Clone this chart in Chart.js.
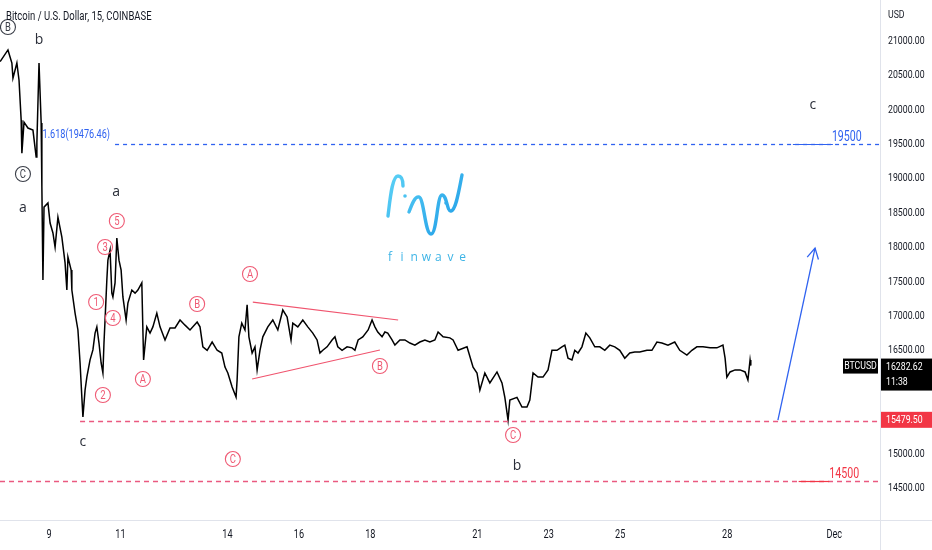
<!DOCTYPE html>
<html>
<head>
<meta charset="utf-8">
<script src="https://cdn.jsdelivr.net/npm/chart.js@4.4.0/dist/chart.umd.min.js"></script>
<style>
  html, body { margin: 0; padding: 0; background: #fff; }
  #wrap { width: 932px; height: 550px; position: relative; }
</style>
</head>
<body>
<div id="wrap"><canvas id="grafico" width="932" height="550"></canvas></div>
<script>
// BTCUSD 15m, COINBASE (dia de novembro, preço)
const days = [
  7.63, 7.85, 7.96, 7.99, 8.10, 8.16, 8.22, 8.24, 8.30, 8.41, 8.55, 8.64, 8.66, 8.72, 8.78, 8.80, 8.83, 8.86, 8.97,
  9.03, 9.11, 9.17, 9.25, 9.36, 9.45, 9.50, 9.53, 9.62, 9.64, 9.73, 9.81, 9.87, 9.92, 9.95,
  10.01, 10.06, 10.15, 10.23, 10.29, 10.34, 10.40, 10.46, 10.51, 10.54, 10.57, 10.62, 10.65, 10.71, 10.76, 10.79, 10.85, 10.90, 10.96,
  11.02, 11.07, 11.16, 11.21, 11.32, 11.41, 11.49, 11.60, 11.63, 11.65, 11.74, 11.83, 11.91,
  12.02, 12.11, 12.25, 12.39, 12.53, 12.67, 12.81, 12.95, 13.15, 13.23, 13.31, 13.43, 13.57, 13.71, 13.84, 13.93,
  14.01, 14.13, 14.24, 14.27, 14.32, 14.40, 14.49, 14.55, 14.60, 14.69, 14.77, 14.83, 14.91, 14.99,
  15.13, 15.27, 15.41, 15.55, 15.67, 15.78, 15.83, 15.97, 16.11, 16.25, 16.39, 16.51, 16.59, 16.67, 16.79, 16.93,
  17.01, 17.09, 17.21, 17.35, 17.49, 17.57, 17.66, 17.79, 17.94, 18.05, 18.13, 18.21, 18.33, 18.41, 18.49, 18.61, 18.69, 18.83, 18.97,
  19.11, 19.25, 19.39, 19.53, 19.67, 19.81, 19.90, 20.04, 20.23, 20.32, 20.46, 20.71, 20.88, 20.99,
  21.07, 21.21, 21.35, 21.55, 21.69, 21.77, 21.86, 21.91, 22.11, 22.25, 22.39, 22.47, 22.56, 22.70, 22.84, 22.98,
  23.09, 23.23, 23.37, 23.45, 23.54, 23.65, 23.73, 23.82, 23.93, 24.04, 24.15, 24.29, 24.43, 24.57, 24.71, 24.85, 24.99,
  25.13, 25.27, 25.41, 25.55, 25.75, 25.89, 26.03, 26.17, 26.34, 26.53, 26.67, 26.87, 27.01, 27.15, 27.32, 27.52, 27.71, 27.88, 27.94, 27.99,
  28.08, 28.22, 28.36, 28.50, 28.58, 28.64, 28.66
];
const closes = [
  20700, 20870, 20680, 20460, 20680, 20430, 19850, 19370, 19820, 19735, 19705, 19315, 19520, 20680, 19810, 18880, 17525, 18585, 18645,
  18355, 18210, 18005, 18440, 18150, 17775, 17380, 17860, 17670, 17380, 17045, 16800, 16320, 15820, 15535,
  15925, 16115, 16365, 16510, 16755, 16845, 16610, 16320, 16175, 16610, 16945, 17525, 17815, 17960, 17335, 17280, 17485, 18135, 17815,
  17670, 17280, 16945, 17190, 17380, 17335, 17380, 17485, 16800, 16365, 16845, 16755, 16845,
  17045, 16845, 16655, 16830, 16830, 16945, 16870, 16800, 16915, 16845, 16555, 16505, 16625, 16505, 16465, 16260,
  16175, 15970, 15825, 16075, 16700, 16900, 16800, 17165, 16700, 16465, 16555, 16220, 16505, 16700,
  16845, 16945, 16800, 17090, 16990, 16655, 16900, 16845, 16945, 16845, 16755, 16655, 16465, 16505, 16555, 16655,
  16700, 16555, 16505, 16555, 16540, 16505, 16655, 16700, 16800, 16945, 16845, 16770, 16700, 16770, 16755, 16655, 16580, 16655, 16655,
  16610, 16580, 16625, 16655, 16625, 16655, 16770, 16700, 16685, 16655, 16505, 16555, 16260, 16175,
  15925, 16175, 16030, 16190, 16030, 15820, 15490, 15780, 15820, 15680, 15680, 15780, 16175, 16115, 16115, 16220,
  16505, 16505, 16555, 16580, 16390, 16365, 16505, 16465, 16555, 16755, 16685, 16555, 16555, 16505, 16580, 16555, 16505,
  16390, 16465, 16480, 16480, 16505, 16505, 16625, 16610, 16580, 16625, 16505, 16435, 16505, 16555, 16555, 16540, 16540, 16580, 16390, 16115,
  16190, 16220, 16220, 16190, 16075, 16365, 16282.62
];

// Eixos
const priceTicks = [21000, 20500, 20000, 19500, 19000, 18500, 18000, 17500, 17000, 16500, 15000, 14500];
const dayTicks = [9, 11, 14, 16, 18, 21, 23, 25, 28, 31];
const dayLabels = ["9", "11", "14", "16", "18", "21", "23", "25", "28", "Dec"];

// Níveis
const lastPrice = 16282.62;
const lastTime = "11:38";
const supportPrice = 15479.5;
const fibPrice = 19476.46;
const targetHigh = 19500;
const targetLowLine = 14600; // linha desenhada um pouco acima do rótulo 14500
const targetLowText = "14500";

// Contagem de ondas: [texto, dia, preço, tipo]
const waves = [
  ["5", 10.90, 18384, "red"], ["3", 10.57, 18006, "red"], ["1", 10.32, 17206, "red"],
  ["4", 10.79, 16974, "red"], ["2", 10.51, 15855, "red"], ["A", 11.63, 16087, "red"],
  ["B", 13.15, 17177, "red"], ["A", 14.63, 17613, "red"], ["C", 14.15, 14924, "red"],
  ["B", 18.27, 16276, "red"], ["C", 22.00, 15273, "red"],
  ["B", 7.85, 21204, "dark"], ["C", 8.27, 19067, "dark"],
  ["b", 8.72, 21015, "text"], ["a", 8.27, 18573, "text"], ["a", 10.88, 18805, "text"],
  ["c", 9.95, 15172, "text"], ["b", 22.11, 14823, "text"], ["c", 30.40, 20070, "text"]
];

// Triângulo e seta
const triUpper = [[14.71, 17206], [18.78, 16945]];
const triLower = [[14.69, 16087], [18.27, 16509]];
const arrow = [[29.42, 15491], [30.46, 17991]];

const red = "#ef5a74";
const blue = "#2f62f0";
const condense = 0.76;

// texto estreito (estilo TradingView)
function narrow(ctx, s, x, y, size, color, align) {
  ctx.save();
  ctx.font = size + "px Roboto, sans-serif";
  ctx.fillStyle = color;
  ctx.textBaseline = "middle";
  ctx.textAlign = "left";
  const w = ctx.measureText(s).width * condense;
  let x0 = x;
  if (align === "right") x0 = x - w;
  else if (align === "center") x0 = x - w / 2;
  ctx.translate(x0, y);
  ctx.scale(condense, 1);
  ctx.fillText(s, 0, 0);
  ctx.restore();
}

function hLine(ctx, x1, x2, y, color, dash, width) {
  ctx.save();
  ctx.strokeStyle = color;
  ctx.lineWidth = width || 1;
  ctx.setLineDash(dash || []);
  ctx.beginPath();
  ctx.moveTo(x1, Math.round(y) + 0.5);
  ctx.lineTo(x2, Math.round(y) + 0.5);
  ctx.stroke();
  ctx.restore();
}

function circled(ctx, x, y, t, color) {
  ctx.save();
  ctx.strokeStyle = color;
  ctx.lineWidth = 1.1;
  ctx.beginPath();
  ctx.arc(x, y, 7.5, 0, Math.PI * 2);
  ctx.stroke();
  ctx.restore();
  narrow(ctx, t, x, y + 0.5, 12.5, color, "center");
}

function drawLogo(ctx) {
  const g = ctx.createLinearGradient(385, 175, 465, 235);
  g.addColorStop(0, "#5cd2f6");
  g.addColorStop(1, "#1e9be6");
  ctx.save();
  ctx.strokeStyle = g;
  ctx.fillStyle = g;
  ctx.lineWidth = 3.4;
  ctx.lineCap = "round";
  ctx.lineJoin = "round";
  ctx.beginPath();
  ctx.moveTo(388, 216);
  ctx.bezierCurveTo(390, 200, 392, 176, 398, 176);
  ctx.bezierCurveTo(402, 176, 403, 182, 403, 186);
  ctx.stroke();
  ctx.beginPath();
  ctx.moveTo(409, 212);
  ctx.bezierCurveTo(412, 204, 415, 196, 419, 197);
  ctx.bezierCurveTo(424, 198, 425, 234, 431, 234);
  ctx.bezierCurveTo(437, 234, 437, 195, 442, 195);
  ctx.bezierCurveTo(447, 195, 447, 212, 451, 211);
  ctx.bezierCurveTo(456, 210, 459, 190, 462, 175);
  ctx.stroke();
  ctx.beginPath(); ctx.arc(405, 196, 1.8, 0, Math.PI * 2); ctx.fill();
  ctx.beginPath(); ctx.arc(446, 203, 1.8, 0, Math.PI * 2); ctx.fill();
  ctx.fillStyle = "#3db4e6";
  ctx.font = "12px 'Open Sans', sans-serif";
  ctx.textAlign = "center";
  ctx.textBaseline = "middle";
  "finwave".split("").forEach((ch, i) => ctx.fillText(ch, 390 + i * 12.1, 258));
  ctx.restore();
}

const overlay = {
  id: "overlay",
  beforeDatasetsDraw(chart) {
    drawLogo(chart.ctx);
  },
  afterDatasetsDraw(chart) {
    const ctx = chart.ctx;
    const sx = chart.scales.x, sy = chart.scales.y;
    const X = d => sx.getPixelForValue(d);
    const Y = p => sy.getPixelForValue(p);
    const right = chart.chartArea.right;

    // linhas horizontais
    hLine(ctx, X(10.85), right, Y(targetHigh), blue, [4, 4], 1.3);
    hLine(ctx, X(9.87), right, Y(supportPrice), "#ea5a80", [5, 4], 1.4);
    hLine(ctx, 0, right, Y(targetLowLine), "#ea5a80", [5, 4], 1.4);
    hLine(ctx, X(29.84), X(30.96), Y(targetHigh), blue, null, 1.2);
    hLine(ctx, X(30.0), X(30.86), Y(targetLowLine), "#f23645", null, 1.2);

    narrow(ctx, "1.618(" + fibPrice.toFixed(2) + ")", X(10.71), Y(fibPrice) - 11, 12, blue, "right");
    narrow(ctx, String(targetHigh), X(30.96) - 1, Y(targetHigh) - 7, 14, blue, "left");
    narrow(ctx, targetLowText, X(30.86), Y(targetLowLine) - 7, 14, "#f23645", "left");

    // triângulo
    ctx.save();
    ctx.strokeStyle = "#f0546e";
    ctx.lineWidth = 1.2;
    [triUpper, triLower].forEach(l => {
      ctx.beginPath();
      ctx.moveTo(X(l[0][0]), Y(l[0][1]));
      ctx.lineTo(X(l[1][0]), Y(l[1][1]));
      ctx.stroke();
    });
    ctx.restore();

    // seta azul
    ctx.save();
    ctx.strokeStyle = blue;
    ctx.lineWidth = 1.3;
    const ax1 = X(arrow[0][0]), ay1 = Y(arrow[0][1]);
    const ax2 = X(arrow[1][0]), ay2 = Y(arrow[1][1]);
    ctx.beginPath(); ctx.moveTo(ax1, ay1); ctx.lineTo(ax2, ay2); ctx.stroke();
    const ang = Math.atan2(ay2 - ay1, ax2 - ax1);
    ctx.beginPath();
    ctx.moveTo(ax2 - 12 * Math.cos(ang - 0.5), ay2 - 12 * Math.sin(ang - 0.5));
    ctx.lineTo(ax2, ay2);
    ctx.lineTo(ax2 - 12 * Math.cos(ang + 0.5), ay2 - 12 * Math.sin(ang + 0.5));
    ctx.stroke();
    ctx.restore();

    // contagem de ondas
    waves.forEach(([t, d, p, kind]) => {
      const x = X(d), y = Y(p);
      if (kind === "red") circled(ctx, x, y, t, red);
      else if (kind === "dark") circled(ctx, x, y, t, "#3a3e48");
      else {
        ctx.save();
        ctx.fillStyle = "#2a2e39";
        ctx.font = "14px 'Open Sans', sans-serif";
        ctx.textAlign = "center";
        ctx.textBaseline = "middle";
        ctx.fillText(t, x, y);
        ctx.restore();
      }
    });
  },
  afterDraw(chart) {
    const ctx = chart.ctx;
    const sx = chart.scales.x, sy = chart.scales.y;
    const { right, bottom } = chart.chartArea;
    const W = chart.width, H = chart.height;

    // bordas dos eixos
    ctx.save();
    ctx.strokeStyle = "#e0e3eb";
    ctx.lineWidth = 1;
    ctx.beginPath();
    ctx.moveTo(right + 0.5, 0); ctx.lineTo(right + 0.5, H);
    ctx.moveTo(0, bottom + 0.5); ctx.lineTo(W, bottom + 0.5);
    ctx.stroke();
    ctx.restore();

    // rótulos dos eixos, a partir dos ticks das escalas
    sy.ticks.forEach(t => narrow(ctx, t.value.toFixed(2), right + 8, sy.getPixelForValue(t.value), 11.5, "#131722", "left"));
    sx.ticks.forEach((t, i) => narrow(ctx, dayLabels[i], sx.getPixelForValue(t.value), bottom + 15, 12, "#131722", "center"));
    narrow(ctx, "USD", right + 8, 15, 11.5, "#131722", "left");

    // título
    narrow(ctx, "Bitcoin / U.S. Dollar, 15, COINBASE", 6, 17, 12.5, "#131722", "left");

    // suporte
    const ys = sy.getPixelForValue(supportPrice);
    ctx.fillStyle = "#f23645";
    ctx.fillRect(right + 1, ys - 9, W - right - 1, 16);
    narrow(ctx, supportPrice.toFixed(2), right + 6, ys - 1, 11.5, "#fff", "left");

    // último preço
    const yl = sy.getPixelForValue(lastPrice);
    ctx.fillStyle = "#000";
    ctx.fillRect(right + 1, yl - 7, W - right - 1, 32);
    ctx.fillRect(right - 37, yl - 7, 35, 15);
    narrow(ctx, lastPrice.toFixed(2), right + 6, yl + 1.5, 11.5, "#fff", "left");
    narrow(ctx, lastTime, right + 6, yl + 16.5, 11.5, "#fff", "left");
    narrow(ctx, "BTCUSD", right - 19.5, yl + 0.5, 11.5, "#fff", "center");
  }
};

new Chart(document.getElementById("grafico"), {
  type: "line",
  data: {
    datasets: [{
      data: days.map((d, i) => ({ x: d, y: closes[i] })),
      borderColor: "#000",
      borderWidth: 1.5,
      pointRadius: 0,
      tension: 0
    }]
  },
  options: {
    responsive: false,
    animation: false,
    layout: { padding: 0 },
    plugins: { legend: { display: false }, tooltip: { enabled: false } },
    scales: {
      x: {
        type: "linear",
        min: 7.627,
        max: 32.28,
        grid: { display: false, drawTicks: false },
        border: { display: false },
        afterFit: a => { a.height = 30; },
        afterBuildTicks: a => { a.ticks = dayTicks.map(v => ({ value: v })); },
        ticks: { display: false }
      },
      y: {
        type: "linear",
        position: "right",
        min: 14038,
        max: 21596,
        grid: { display: false, drawTicks: false },
        border: { display: false },
        afterFit: a => { a.width = 52; },
        afterBuildTicks: a => { a.ticks = priceTicks.map(v => ({ value: v })); },
        ticks: { display: false }
      }
    }
  },
  plugins: [overlay]
});
</script>
</body>
</html>
